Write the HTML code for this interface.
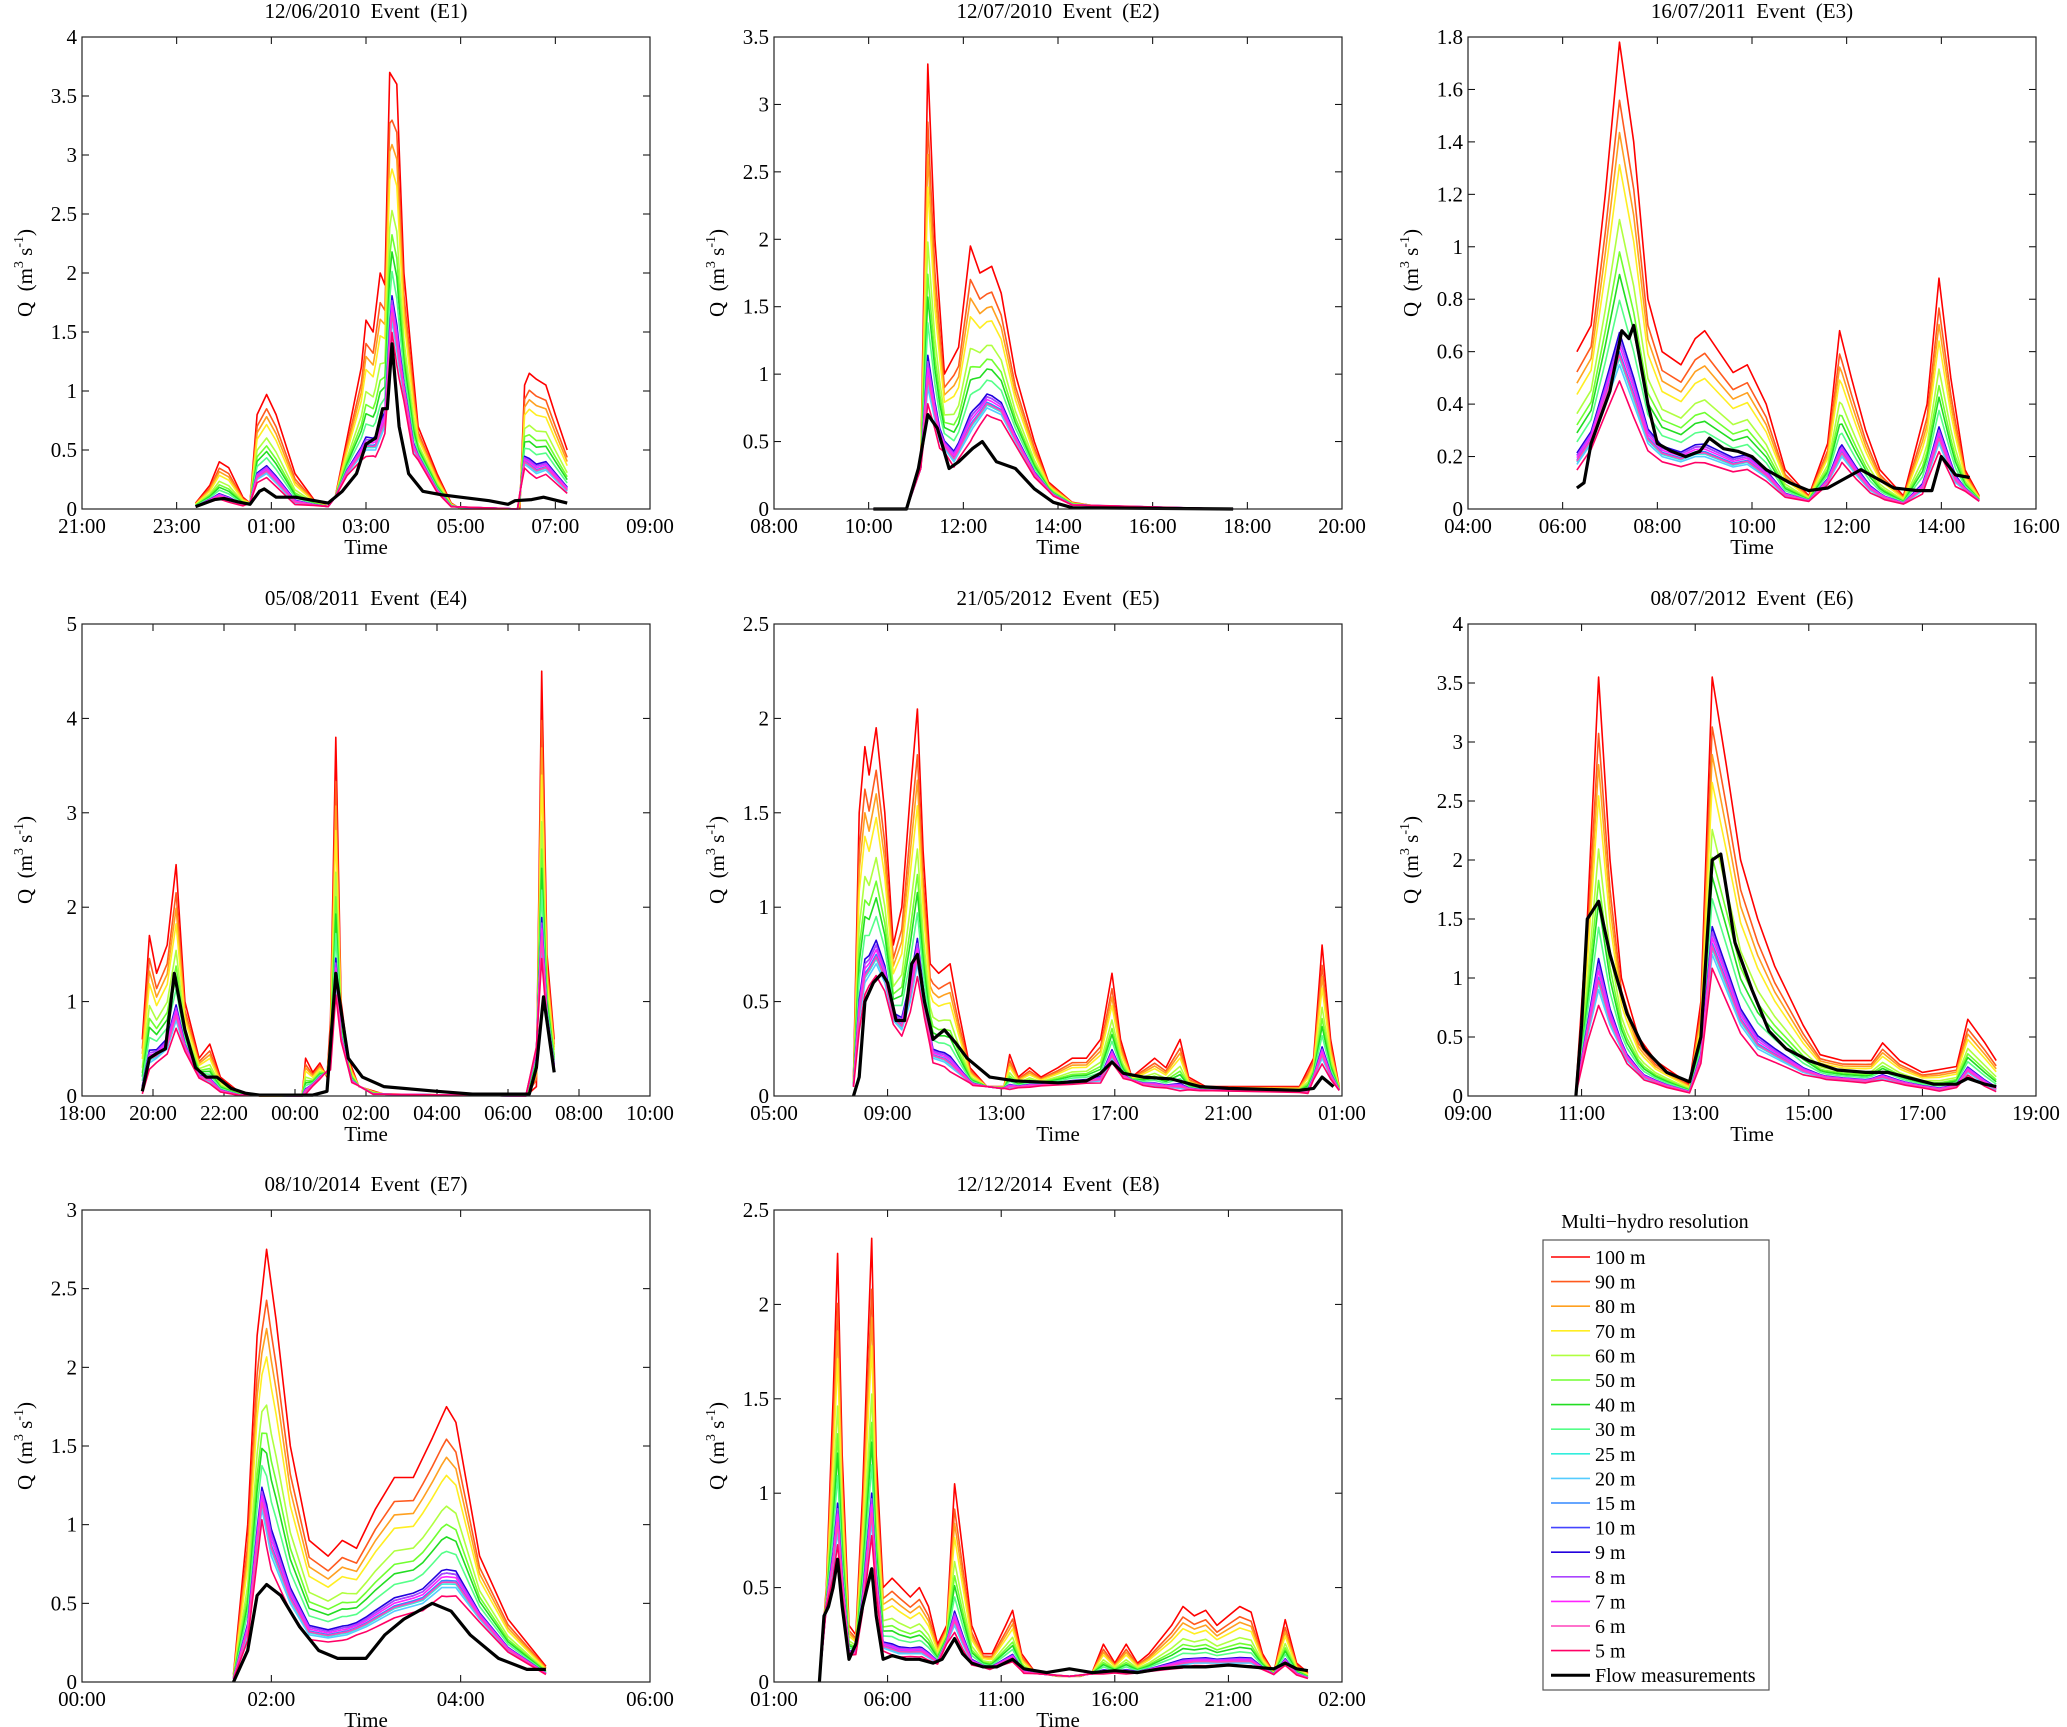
<!DOCTYPE html>
<html><head><meta charset="utf-8">
<style>
html,body{margin:0;padding:0;background:#fff;}
svg{display:block;font-family:"Liberation Serif",serif;}
svg text{white-space:pre;}
</style></head>
<body>
<svg id="fig" width="2067" height="1727" viewBox="0 0 2067 1727" xmlns="http://www.w3.org/2000/svg"></svg>
<script>
// ---------- data ----------
const resLabels = ["100 m","90 m","80 m","70 m","60 m","50 m","40 m","30 m","25 m","20 m","15 m","10 m","9 m","8 m","7 m","6 m","5 m"];
const resColors = ["#ff0000","#ff5a1e","#ffa020","#ffee22","#b0ff40","#70ff30","#22dd22","#55ff88","#33eedd","#55ccff","#3388ff","#4444ff","#2200dd","#aa44ff","#ff22ff","#ff44bb","#ff0066"];
const resWeights = [1,0.82,0.72,0.62,0.45,0.35,0.28,0.2,0.02,0,0.04,0.08,0.1,0.08,0.06,0.03,-0.05];

const titles = ["12/06/2010  Event  (E1)","12/07/2010  Event  (E2)","16/07/2011  Event  (E3)","05/08/2011  Event  (E4)","21/05/2012  Event  (E5)","08/07/2012  Event  (E6)","08/10/2014  Event  (E7)","12/12/2014  Event  (E8)"];
const xSpans = [12,12,12,16,20,10,6,25];
const xTickStep = [2,2,2,2,4,2,2,5];
const xStartHour = [21,8,4,18,5,9,0,1];
const yMax = [4,3.5,1.8,5,2.5,4,3,2.5];
const yStep = [0.5,0.5,0.2,1,0.5,0.5,0.5,0.5];

const hiSeries = [
[[2.4,0.05],[2.7,0.2],[2.9,0.4],[3.1,0.35],[3.4,0.1],[3.55,0.05],[3.7,0.8],[3.9,0.97],[4.1,0.8],[4.5,0.3],[4.9,0.08],[5.2,0.02],[5.35,0.1],[5.6,0.6],[5.9,1.2],[6.0,1.6],[6.15,1.5],[6.3,2.0],[6.4,1.9],[6.5,3.7],[6.65,3.6],[6.8,2.0],[7.1,0.7],[7.5,0.3],[7.8,0.05],[8.0,0],[9.25,0],[9.35,1.05],[9.45,1.15],[9.6,1.1],[9.8,1.05],[10.0,0.8],[10.25,0.5]],
[[2.1,0],[2.8,0],[3.1,0.3],[3.25,3.3],[3.4,2.0],[3.6,1.0],[3.9,1.2],[4.15,1.95],[4.35,1.75],[4.6,1.8],[4.8,1.6],[5.1,1.0],[5.5,0.5],[5.8,0.2],[6.3,0.05],[7.0,0.01],[9.7,0]],
[[2.3,0.6],[2.6,0.7],[2.9,1.2],[3.2,1.78],[3.5,1.4],[3.8,0.8],[4.1,0.6],[4.5,0.55],[4.8,0.65],[5.0,0.68],[5.3,0.6],[5.6,0.52],[5.9,0.55],[6.3,0.4],[6.7,0.15],[7.2,0.05],[7.6,0.25],[7.85,0.68],[8.1,0.5],[8.4,0.3],[8.7,0.15],[9.2,0.05],[9.7,0.4],[9.95,0.88],[10.2,0.5],[10.5,0.15],[10.8,0.05]],
[[1.7,0.6],[1.9,1.7],[2.1,1.3],[2.4,1.6],[2.65,2.45],[2.9,1.0],[3.3,0.4],[3.6,0.55],[3.9,0.2],[4.4,0.05],[5.0,0],[6.2,0],[6.3,0.4],[6.5,0.25],[6.7,0.35],[6.9,0.2],[7.0,0.8],[7.15,3.8],[7.3,1.0],[7.5,0.4],[7.8,0.1],[8.5,0.02],[12.5,0],[12.8,0.1],[12.95,4.5],[13.1,1.5],[13.3,0.6]],
[[2.8,0.1],[3.0,1.5],[3.2,1.85],[3.35,1.7],[3.6,1.95],[3.9,1.5],[4.2,0.8],[4.5,1.0],[4.8,1.6],[5.05,2.05],[5.25,1.3],[5.5,0.7],[5.8,0.65],[6.2,0.7],[6.5,0.45],[6.9,0.15],[7.5,0.05],[8.1,0.05],[8.3,0.22],[8.6,0.1],[9.0,0.15],[9.4,0.1],[10.0,0.15],[10.5,0.2],[11.0,0.2],[11.5,0.3],[11.9,0.65],[12.2,0.3],[12.6,0.1],[13.0,0.15],[13.4,0.2],[13.8,0.15],[14.3,0.3],[14.6,0.1],[15.2,0.05],[18.5,0.05],[19.0,0.2],[19.3,0.8],[19.6,0.3],[19.9,0.05]],
[[1.9,0.05],[2.1,1.5],[2.3,3.55],[2.5,2.0],[2.7,1.0],[3.0,0.5],[3.3,0.3],[3.6,0.2],[3.9,0.1],[4.1,0.8],[4.3,3.55],[4.55,2.8],[4.8,2.0],[5.1,1.5],[5.4,1.1],[5.6,0.9],[5.9,0.6],[6.2,0.35],[6.6,0.3],[7.1,0.3],[7.3,0.45],[7.6,0.3],[8.0,0.2],[8.6,0.25],[8.8,0.65],[9.1,0.45],[9.3,0.3]],
[[1.6,0.05],[1.75,1.0],[1.85,2.2],[1.95,2.75],[2.05,2.3],[2.2,1.5],[2.4,0.9],[2.6,0.8],[2.75,0.9],[2.9,0.85],[3.1,1.1],[3.3,1.3],[3.5,1.3],[3.7,1.55],[3.85,1.75],[3.95,1.65],[4.2,0.8],[4.5,0.4],[4.9,0.1]],
[[2.0,0],[2.3,0.5],[2.6,1.5],[2.8,2.27],[3.0,1.2],[3.3,0.3],[3.6,0.25],[3.9,1.0],[4.1,1.7],[4.3,2.35],[4.5,1.2],[4.8,0.5],[5.2,0.55],[5.6,0.5],[6.0,0.45],[6.4,0.5],[6.8,0.4],[7.2,0.2],[7.6,0.3],[7.95,1.05],[8.3,0.7],[8.7,0.3],[9.2,0.15],[9.6,0.15],[10.2,0.3],[10.5,0.38],[10.9,0.15],[11.5,0.05],[12.5,0.03],[13.5,0.03],[14.0,0.05],[14.5,0.2],[15.0,0.1],[15.5,0.2],[16.0,0.1],[16.5,0.15],[17.5,0.3],[18.0,0.4],[18.5,0.35],[19.0,0.38],[19.5,0.3],[20.0,0.35],[20.5,0.4],[21.0,0.37],[21.5,0.15],[22.0,0.05],[22.5,0.33],[23.0,0.1],[23.5,0.05]]
];
const loSeries = [
[[2.4,0.02],[2.9,0.1],[3.4,0.03],[3.55,0.05],[3.7,0.25],[3.9,0.3],[4.1,0.22],[4.5,0.05],[5.2,0.02],[5.35,0.1],[5.6,0.3],[6.0,0.5],[6.2,0.5],[6.4,0.7],[6.55,1.6],[6.7,1.2],[7.0,0.5],[7.5,0.15],[7.8,0.02],[9.2,0],[9.35,0.38],[9.6,0.3],[9.8,0.33],[10.25,0.15]],
[[2.1,0],[2.8,0],[3.1,0.3],[3.25,0.9],[3.5,0.5],[3.8,0.35],[4.2,0.6],[4.5,0.75],[4.8,0.7],[5.1,0.5],[5.5,0.25],[5.9,0.1],[6.3,0.03],[9.7,0]],
[[2.3,0.17],[2.6,0.25],[2.9,0.4],[3.2,0.55],[3.5,0.4],[3.8,0.25],[4.1,0.2],[4.5,0.18],[4.8,0.2],[5.0,0.2],[5.3,0.18],[5.6,0.16],[5.9,0.17],[6.3,0.12],[6.7,0.05],[7.2,0.03],[7.6,0.1],[7.9,0.2],[8.2,0.13],[8.5,0.07],[8.8,0.04],[9.2,0.02],[9.6,0.07],[9.95,0.25],[10.3,0.1],[10.8,0.03]],
[[1.7,0.05],[1.9,0.35],[2.1,0.4],[2.4,0.5],[2.65,0.8],[2.9,0.5],[3.3,0.2],[3.6,0.15],[3.9,0.05],[4.4,0.01],[6.2,0],[7.0,0.3],[7.15,1.2],[7.3,0.6],[7.6,0.15],[8.2,0.02],[12.5,0],[12.8,0.5],[12.95,1.6],[13.1,0.8],[13.3,0.3]],
[[2.8,0.05],[3.0,0.4],[3.2,0.6],[3.6,0.7],[3.9,0.6],[4.2,0.4],[4.5,0.35],[4.8,0.5],[5.05,0.7],[5.3,0.45],[5.6,0.2],[6.0,0.18],[6.5,0.12],[7.0,0.06],[8.0,0.04],[11.5,0.08],[11.9,0.2],[12.3,0.1],[13.0,0.06],[15.0,0.03],[18.8,0.02],[19.3,0.2],[19.6,0.1],[19.9,0.03]],
[[1.9,0.02],[2.1,0.5],[2.3,0.9],[2.5,0.6],[2.8,0.3],[3.1,0.15],[3.5,0.08],[3.9,0.03],[4.1,0.3],[4.3,1.2],[4.55,0.9],[4.8,0.6],[5.1,0.4],[5.5,0.3],[5.9,0.2],[6.3,0.15],[7.0,0.12],[7.3,0.15],[7.7,0.1],[8.3,0.05],[8.6,0.08],[8.8,0.2],[9.1,0.1],[9.3,0.05]],
[[1.6,0.02],[1.75,0.3],[1.9,1.1],[2.0,0.8],[2.2,0.5],[2.4,0.3],[2.6,0.28],[2.8,0.3],[3.0,0.35],[3.3,0.45],[3.6,0.5],[3.8,0.6],[3.95,0.6],[4.2,0.4],[4.5,0.2],[4.9,0.05]],
[[2.0,0],[2.3,0.4],[2.6,0.6],[2.8,0.8],[3.0,0.5],[3.3,0.15],[3.6,0.15],[3.9,0.4],[4.3,0.85],[4.5,0.5],[4.8,0.18],[5.5,0.15],[6.5,0.15],[7.2,0.1],[7.95,0.3],[8.3,0.2],[8.7,0.1],[9.5,0.07],[10.5,0.12],[11.0,0.05],[13.0,0.03],[14.5,0.05],[16.0,0.05],[17.5,0.08],[18.5,0.1],[20.0,0.1],[21.0,0.1],[22.0,0.04],[22.5,0.1],[23.0,0.04],[23.5,0.02]]
];
const obsSeries = [
[[2.4,0.02],[2.8,0.08],[3.0,0.09],[3.3,0.06],[3.55,0.04],[3.75,0.15],[3.85,0.17],[4.1,0.1],[4.5,0.1],[5.2,0.05],[5.5,0.15],[5.8,0.3],[6.0,0.55],[6.2,0.6],[6.35,0.85],[6.45,0.85],[6.55,1.4],[6.7,0.7],[6.9,0.3],[7.2,0.15],[7.6,0.12],[8.0,0.1],[8.6,0.07],[9.0,0.04],[9.15,0.07],[9.5,0.08],[9.75,0.1],[10.25,0.05]],
[[2.1,0],[2.8,0],[3.05,0.3],[3.25,0.7],[3.45,0.6],[3.7,0.3],[3.9,0.35],[4.2,0.45],[4.4,0.5],[4.7,0.35],[5.1,0.3],[5.5,0.15],[5.9,0.05],[6.3,0.01],[9.7,0]],
[[2.3,0.08],[2.45,0.1],[2.6,0.25],[2.8,0.35],[3.0,0.45],[3.25,0.68],[3.4,0.65],[3.5,0.7],[3.8,0.4],[4.0,0.25],[4.3,0.22],[4.6,0.2],[4.9,0.22],[5.1,0.27],[5.4,0.23],[5.7,0.22],[6.0,0.2],[6.3,0.15],[6.8,0.1],[7.2,0.07],[7.6,0.08],[8.0,0.12],[8.3,0.15],[8.6,0.12],[9.0,0.08],[9.5,0.07],[9.8,0.07],[10.0,0.2],[10.3,0.13],[10.6,0.12]],
[[1.7,0.05],[1.9,0.4],[2.1,0.45],[2.35,0.5],[2.6,1.3],[2.9,0.7],[3.2,0.3],[3.5,0.2],[3.8,0.2],[4.2,0.08],[4.6,0.03],[5.0,0.01],[6.5,0.01],[6.9,0.05],[7.15,1.3],[7.3,0.9],[7.5,0.4],[7.9,0.2],[8.5,0.1],[10.0,0.05],[11.0,0.02],[12.6,0.02],[12.8,0.3],[13.0,1.05],[13.3,0.25]],
[[2.8,0],[3.0,0.1],[3.2,0.5],[3.5,0.6],[3.8,0.65],[4.0,0.6],[4.3,0.4],[4.6,0.4],[4.85,0.7],[5.05,0.75],[5.3,0.5],[5.6,0.3],[6.0,0.35],[6.4,0.28],[6.8,0.2],[7.2,0.15],[7.6,0.1],[8.5,0.08],[10.0,0.07],[11.0,0.08],[11.5,0.12],[11.9,0.18],[12.3,0.12],[13.0,0.1],[14.0,0.09],[15.0,0.05],[16.0,0.04],[18.5,0.03],[19.0,0.04],[19.3,0.1],[19.7,0.05]],
[[1.9,0],[2.0,0.6],[2.1,1.5],[2.3,1.65],[2.5,1.2],[2.8,0.7],[3.1,0.4],[3.5,0.2],[3.9,0.12],[4.1,0.5],[4.3,2.0],[4.45,2.05],[4.7,1.3],[5.0,0.9],[5.3,0.55],[5.6,0.4],[6.0,0.3],[6.5,0.22],[7.0,0.2],[7.4,0.2],[7.8,0.15],[8.2,0.1],[8.6,0.1],[8.8,0.15],[9.1,0.1],[9.3,0.08]],
[[1.6,0],[1.75,0.2],[1.85,0.55],[1.95,0.62],[2.1,0.55],[2.3,0.35],[2.5,0.2],[2.7,0.15],[3.0,0.15],[3.2,0.3],[3.4,0.4],[3.7,0.5],[3.9,0.45],[4.1,0.3],[4.4,0.15],[4.7,0.08],[4.9,0.08]],
[[2.0,0],[2.2,0.35],[2.4,0.4],[2.6,0.5],[2.8,0.65],[3.0,0.4],[3.3,0.12],[3.6,0.2],[3.9,0.4],[4.3,0.6],[4.5,0.35],[4.8,0.12],[5.2,0.14],[5.8,0.12],[6.4,0.12],[7.0,0.1],[7.4,0.12],[7.95,0.23],[8.3,0.15],[8.7,0.1],[9.2,0.08],[9.8,0.08],[10.5,0.12],[11.0,0.07],[12.0,0.05],[13.0,0.07],[14.0,0.05],[15.0,0.06],[16.0,0.05],[17.0,0.07],[18.0,0.08],[19.0,0.08],[20.0,0.09],[21.0,0.08],[22.0,0.07],[22.5,0.1],[23.0,0.07],[23.5,0.06]]
];

// ---------- drawing ----------
const NS="http://www.w3.org/2000/svg";
const svg=document.getElementById('fig');
function mk(tag,attrs,parent){const e=document.createElementNS(NS,tag);for(const k in attrs)e.setAttribute(k,attrs[k]);(parent||svg).appendChild(e);return e;}
const colLeft=[82,774,1468], rowTop=[37,624,1210], PW=568, PH=472;
function interp(s,t){if(t<=s[0][0])return s[0][1];for(let i=1;i<s.length;i++){if(t<=s[i][0]){const a=s[i-1],b=s[i];return a[1]+(b[1]-a[1])*(t-a[0])/(b[0]-a[0]);}}return s[s.length-1][1];}
function pad(h){h=((h%24)+24)%24;return (h<10?'0':'')+h+':00';}

for(let p=0;p<8;p++){
  const L=colLeft[p%3], T=rowTop[Math.floor(p/3)];
  const g=mk('g',{});
  
  
  const xs=t=>L+t/xSpans[p]*PW, ys=v=>T+PH-v/yMax[p]*PH;
  const tt=mk('text',{x:L+PW/2,y:T-19,'text-anchor':'middle','font-size':21},g);tt.textContent=titles[p];
  
  mk('rect',{x:L,y:T,width:PW,height:PH,fill:'#fff',stroke:'none'},g);
  const ny=Math.round(yMax[p]/yStep[p]);
  for(let i=0;i<=ny;i++){const v=+(i*yStep[p]).toFixed(2),y=ys(v);
    mk('line',{x1:L,y1:y,x2:L+7,y2:y,stroke:'#000','stroke-width':1},g);
    mk('line',{x1:L+PW,y1:y,x2:L+PW-7,y2:y,stroke:'#000','stroke-width':1},g);
    const t=mk('text',{x:L-5,y:y+7,'text-anchor':'end','font-size':21},g);t.textContent=String(v);
    }
  for(let h=0;h<=xSpans[p];h+=xTickStep[p]){const x=xs(h);
    mk('line',{x1:x,y1:T+PH,x2:x,y2:T+PH-7,stroke:'#000','stroke-width':1},g);
    mk('line',{x1:x,y1:T,x2:x,y2:T+7,stroke:'#000','stroke-width':1},g);
    const t=mk('text',{x:x,y:T+PH+24,'text-anchor':'middle','font-size':21},g);t.textContent=pad(xStartHour[p]+h);
    }
  const xl=mk('text',{x:L+PW/2,y:T+PH+45,'text-anchor':'middle','font-size':21},g);xl.textContent='Time';
  
  const yl=mk('text',{transform:`translate(${L-50},${T+PH/2}) rotate(-90)`,'text-anchor':'middle','font-size':21},g);
  
  yl.innerHTML='Q  (m<tspan font-size="14" dy="-9">3</tspan><tspan dy="9"> s</tspan><tspan font-size="14" dy="-9">-1</tspan><tspan dy="9">)</tspan>';
  const hi=hiSeries[p], lo=loSeries[p];
  const times=[...new Set(hi.map(a=>a[0]).concat(lo.map(a=>a[0])))].sort((a,b)=>a-b);
  for(let k=0;k<resLabels.length;k++){
    const pts=times.map(t=>{const l=interp(lo,t),h=interp(hi,t);const v=Math.max(0,l+resWeights[k]*(h-l));return xs(t).toFixed(1)+','+ys(v).toFixed(1);});
    const pl=mk('polyline',{points:pts.join(' '),fill:'none',stroke:resColors[k],'stroke-width':1.6,'stroke-linejoin':'round'},g);
    
    
  }
  const ob=mk('polyline',{points:obsSeries[p].map(a=>xs(a[0]).toFixed(1)+','+ys(a[1]).toFixed(1)).join(' '),fill:'none',stroke:'#000','stroke-width':3.2,'stroke-linejoin':'round'},g);
  
  mk('rect',{x:L,y:T,width:PW,height:PH,fill:'none',stroke:'#222','stroke-width':1.2},g);
}

// legend
const lg=mk('g',{});


const lt=mk('text',{x:1655,y:1228,'text-anchor':'middle','font-size':20},lg);lt.textContent='Multi\u2212hydro resolution';

mk('rect',{x:1543,y:1240,width:226,height:450,fill:'#fff',stroke:'#555','stroke-width':1.2},lg);
const legLabels=resLabels.concat(['Flow measurements']);
const legColors=resColors.concat(['#000']);
for(let i=0;i<legLabels.length;i++){
  const y=1257+i*24.6;
  const e=mk('g',{},lg);
  
  
  mk('line',{x1:1551,y1:y,x2:1590,y2:y,stroke:legColors[i],'stroke-width':i===17?3:1.6},e);
  const t=mk('text',{x:1595,y:y+7,'font-size':20},e);t.textContent=legLabels[i];
}
</script>
</body></html>
